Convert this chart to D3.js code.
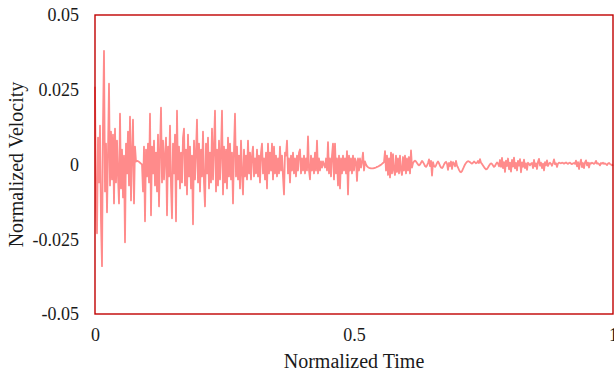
<!DOCTYPE html>
<html>
<head>
<meta charset="utf-8">
<script src="https://cdn.jsdelivr.net/npm/d3@7"></script>
<style>
  html, body { margin: 0; padding: 0; background: #fff; overflow: hidden; }
  text { font-family: "Liberation Serif", "Times New Roman", serif; fill: #1a1a1a; }
</style>
</head>
<body>
<svg id="chart" width="614" height="376"></svg>
<script>
// Normalized velocity record, uniformly sampled over normalized time 0..1
const velocity = [
  .026,-.014,-.023,.009,-.006,.013,-.019,-.034,.014,.038,
  -.009,.007,-.016,.004,.027,-.007,.011,-.005,.010,-.013,
  .012,-.006,.008,-.004,-.013,.017,-.008,.005,-.011,.003,
  -.026,.007,-.003,.011,-.007,.016,-.012,.004,.015,-.013,
  .006,.001,.0012,.0011,.0009,.0006,.0003,0,-.009,.006,
  -.019,.005,-.004,.007,-.006,.017,-.017,.006,-.003,.008,
  -.007,.004,-.009,.010,-.014,.005,.019,-.006,.008,-.005,
  .003,.009,-.017,.006,-.004,.013,-.007,-.018,.007,-.003,
  .010,-.019,.018,-.005,.006,-.008,.004,-.006,.009,.012,
  -.007,.005,-.010,.010,-.004,.006,-.008,.003,-.020,.008,
  -.005,.004,.015,-.006,.007,-.009,.005,-.004,.011,-.006,
  -.014,.007,-.003,.009,-.008,.004,-.006,.012,-.005,.006,
  .018,-.009,.005,-.007,.008,-.005,.004,.018,-.010,.006,
  -.006,.005,-.008,.009,-.004,.007,-.005,.004,-.013,.005,
  .017,-.004,.006,-.005,.003,-.008,.008,-.003,-.010,.005,
  -.004,.003,-.005,.008,-.003,.004,-.005,.003,.006,-.004,
  .002,-.003,.005,-.004,.003,-.006,.004,.007,-.003,.002,
  -.005,.004,-.008,.007,-.003,.004,-.002,.007,-.005,.006,
  -.003,.003,-.004,.002,-.003,.006,-.002,.003,-.004,-.010,
  .004,.003,.008,-.003,.002,-.006,.003,-.002,.004,-.003,
  .002,-.004,.003,-.002,.004,.005,-.003,.002,-.002,.003,
  -.003,.002,-.002,.0094,-.002,-.005,.003,-.002,.002,-.003,
  .004,-.002,.008,-.003,.002,-.002,.001,-.001,.001,0,
  -.001,.002,-.002,.0075,-.003,.002,-.004,.003,.007,-.005,
  .007,-.003,.002,-.007,.003,-.008,.002,-.003,.003,-.002,
  .002,-.003,.0045,-.010,.003,-.002,.002,-.003,.003,-.002,
  .002,.001,-.0055,.002,-.002,.002,-.001,.001,.004,-.002,
  .001,0,-.0006,-.0009,-.0011,-.0012,-.0013,-.0013,-.0013,-.0012,
  -.0011,-.001,-.0008,-.0007,-.0005,-.0003,-.0001,.0002,.0005,.0008,
  .0045,-.002,.003,-.0035,.002,-.0043,.004,-.003,.0035,-.002,
  -.0035,.003,-.0025,.002,-.003,.003,-.002,-.0035,.0025,-.002,
  .003,-.003,.002,-.002,.0025,-.003,.0047,-.001,.0005,.001,
  .0013,.001,.0005,0,-.0003,0,.0006,.0012,.0008,.0002,
  -.0005,-.0008,-.0003,.0005,.0017,-.0005,.0012,-.0037,.0008,-.0005,
  -.0008,-.0003,.0005,.001,.0004,-.0004,-.001,-.0012,-.0008,0,
  .0006,.0009,.0003,-.0018,.0005,-.0005,.001,-.0015,.0008,.0003,
  -.0006,.0012,-.0004,-.001,-.0018,-.0024,-.0026,-.0022,-.0015,-.0007,
  0,.0005,.0009,.0011,.001,.0008,.0005,.0003,.0006,.001,
  .0007,.0004,.0006,.0012,.0005,.0018,.0006,.0002,-.0003,-.0008,
  -.0013,-.0016,-.0015,-.001,-.0004,.0001,.0004,.0002,-.0003,-.0008,
  -.0005,.0002,.0007,.0003,-.0006,.0015,-.0008,.0022,-.0012,.0008,
  -.0025,.0013,-.0005,.002,-.0016,.0006,-.0024,.0015,-.0007,.0023,
  -.0013,.0005,-.002,.0012,-.0004,.0018,-.0026,.0007,-.0008,.0016,
  -.0012,.0004,-.0018,.0006,.0002,-.0003,.0003,.0005,-.0012,.0015,
  -.0006,.0004,-.0015,.0009,.0019,-.0004,.0006,-.0012,.0003,-.002,
  .0008,-.0003,.0014,-.0005,.0003,.0006,.0002,-.0004,.0005,.0017,
  .0001,.0004,-.0008,.0003,.0006,.0005,.0004,.0006,.0005,.0003,
  .0005,.0007,.0004,.0002,.0005,.0006,.0003,.0001,.0004,.0005,
  .0002,.0013,-.0006,.0008,-.0015,.0004,.0016,-.0009,.0005,-.0012,
  .0007,.0014,-.0003,.0006,-.001,.0005,.0003,.0006,.0004,.0002,
  .0005,.0012,.0003,.0004,.0002,-.0003,.0005,.0003,.0006,.0002,
  .0004,.0001,-.0002,.0003,.0005,.0002,0,-.0003,0
];

const timeDomain = [0, 1];
const velocityDomain = [-0.05, 0.05];
const xTicks = [0, 0.5, 1];
const xTickLabels = ["0", "0.5", "1"];
const yTicks = [-0.05, -0.025, 0, 0.025, 0.05];
const yTickLabels = ["-0.05", "-0.025", "0", "0.025", "0.05"];
const xTitle = "Normalized Time";
const yTitle = "Normalized Velocity";

const plot = { left: 95, right: 613, top: 15, bottom: 314 };

const svg = d3.select("#chart");

const x = d3.scaleLinear().domain(timeDomain).range([plot.left, plot.right]);
const y = d3.scaleLinear().domain(velocityDomain).range([plot.bottom, plot.top]);

const samples = velocity.map((v, i) => ({ t: i / (velocity.length - 1), v }));

// trace
svg.append("path")
  .datum(samples)
  .attr("fill", "none")
  .attr("stroke", "#ff8b8b")
  .attr("stroke-width", 1.8)
  .attr("stroke-linejoin", "round")
  .attr("d", d3.line().x(d => x(d.t)).y(d => y(d.v)));

// plot frame
svg.append("rect")
  .attr("x", plot.left)
  .attr("y", plot.top)
  .attr("width", plot.right - plot.left)
  .attr("height", plot.bottom - plot.top)
  .attr("fill", "none")
  .attr("stroke", "#c00000")
  .attr("stroke-width", 1.4);

// axes (labels only)
const xAxis = d3.axisBottom(x)
  .tickValues(xTicks)
  .tickFormat((d, i) => xTickLabels[i])
  .tickSize(0)
  .tickPadding(14);
const gx = svg.append("g")
  .attr("transform", `translate(0,${plot.bottom})`)
  .call(xAxis);
gx.select(".domain").remove();
gx.selectAll("text")
  .style("font-family", "'Liberation Serif', serif")
  .style("font-size", "18px")
  .attr("fill", "#1a1a1a");

const yAxis = d3.axisLeft(y)
  .tickValues(yTicks)
  .tickFormat((d, i) => yTickLabels[i])
  .tickSize(0)
  .tickPadding(16);
const gy = svg.append("g")
  .attr("transform", `translate(${plot.left},0)`)
  .call(yAxis);
gy.select(".domain").remove();
gy.selectAll("text")
  .style("font-family", "'Liberation Serif', serif")
  .style("font-size", "18px")
  .attr("fill", "#1a1a1a");

// axis titles
svg.append("text")
  .attr("x", (plot.left + plot.right) / 2)
  .attr("y", 368)
  .attr("text-anchor", "middle")
  .style("font-size", "20px")
  .text(xTitle);

svg.append("text")
  .attr("transform", `translate(23,${(plot.top + plot.bottom) / 2}) rotate(-90)`)
  .attr("text-anchor", "middle")
  .style("font-size", "20px")
  .text(yTitle);
</script>
</body>
</html>
